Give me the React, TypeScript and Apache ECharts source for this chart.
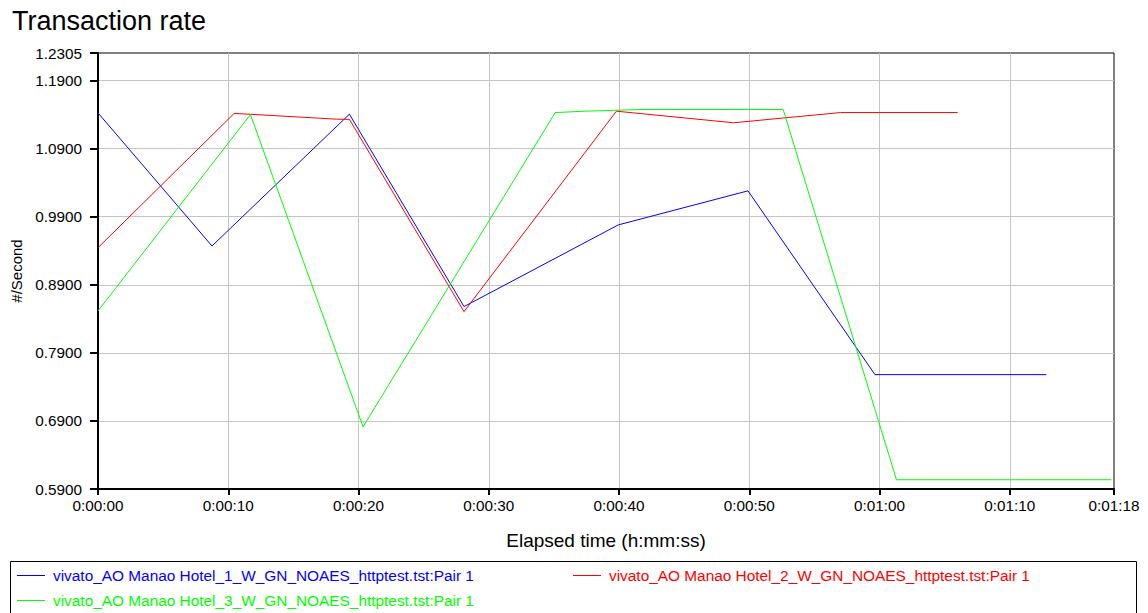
import React, { useEffect, useRef } from "react";
import * as echarts from "echarts";

const TITLE = "Transaction rate";
const X_NAME = "Elapsed time (h:mm:ss)";
const Y_NAME = "#/Second";

const SERIES_NAMES = [
  "vivato_AO Manao Hotel_1_W_GN_NOAES_httptest.tst:Pair 1",
  "vivato_AO Manao Hotel_2_W_GN_NOAES_httptest.tst:Pair 1",
  "vivato_AO Manao Hotel_3_W_GN_NOAES_httptest.tst:Pair 1",
];
const SERIES_COLORS = ["#0000ff", "#ff0000", "#00ff00"];

// elapsed seconds / transactions per second
const blueT = [0, 8.75, 19.3, 28.1, 39.95, 49.9, 59.65, 72.8];
const blueV = [1.1425, 0.947, 1.1406, 0.858, 0.978, 1.028, 0.758, 0.758];

const redT = [0, 10.45, 11.6, 18.3, 19.3, 28.1, 39.8, 48.8, 52.6, 57, 66];
const redV = [0.9445, 1.1417, 1.1406, 1.1333, 1.133, 0.8506, 1.145, 1.128, 1.135, 1.143, 1.143];

const greenT = [0, 11.7, 20.35, 35.1, 37.4, 41.75, 52.6, 61.3, 77.8];
const greenV = [0.8516, 1.14, 0.6814, 1.143, 1.145, 1.1475, 1.1475, 0.6036, 0.6036];

const X_MIN = 0;
const X_MAX = 78;
const X_INTERVAL = 10;
const Y_MIN = 0.59;
const Y_MAX = 1.2305;
const Y_INTERVAL = 0.1;

const pad2 = (n: number) => (n < 10 ? "0" + n : "" + n);
const fmtTime = (v: number) => {
  const t = Math.round(v);
  const h = Math.floor(t / 3600);
  const m = Math.floor((t % 3600) / 60);
  const s = t % 60;
  return `${h}:${pad2(m)}:${pad2(s)}`;
};

const FONT = "'Liberation Sans', Arial, sans-serif";

export default function App() {
  const ref = useRef<HTMLDivElement>(null);
  useEffect(() => {
    if (!ref.current) return;
    const chart = echarts.init(ref.current, null, { renderer: "svg" });
    const zip = (t: number[], v: number[]) => t.map((x, i) => [x, v[i]]);
    const datas = [zip(blueT, blueV), zip(redT, redV), zip(greenT, greenV)];
    const legendPos = [
      { left: 17, top: 568 },
      { left: 573, top: 568 },
      { left: 17, top: 593 },
    ];
    chart.setOption({
      animation: false,
      backgroundColor: "#ffffff",
      textStyle: { fontFamily: FONT },
      title: {
        text: TITLE,
        left: 7,
        top: 2,
        textStyle: { fontFamily: FONT, fontSize: 27, fontWeight: "normal", color: "#000" },
      },
      grid: {
        left: 98,
        right: 34,
        top: 53,
        bottom: 124,
        show: true,
        borderColor: "#000",
        borderWidth: 1,
        outerBoundsMode: "none",
      },
      legend: SERIES_NAMES.map((n, i) => ({
        data: [n],
        left: legendPos[i].left,
        top: legendPos[i].top,
        icon: "rect",
        itemWidth: 28,
        itemHeight: 1,
        padding: 0,
        selectedMode: false,
        textStyle: { fontFamily: FONT, fontSize: 15.4, color: SERIES_COLORS[i], padding: [0, 0, 0, 3] },
      })),
      xAxis: {
        type: "value",
        min: X_MIN,
        max: X_MAX,
        interval: X_INTERVAL,
        name: X_NAME,
        nameLocation: "middle",
        nameGap: 42,
        nameTextStyle: { fontFamily: FONT, fontSize: 19, color: "#000" },
        axisLine: { lineStyle: { color: "#000", width: 2 } },
        axisTick: { show: true, length: 6, lineStyle: { color: "#000", width: 2 } },
        axisLabel: { formatter: fmtTime, fontSize: 15.3, color: "#000", margin: 9, fontFamily: FONT, showMaxLabel: true },
        splitLine: { show: true, showMinLine: false, showMaxLine: false, lineStyle: { color: "#c4c4c4", width: 1 } },
      },
      yAxis: {
        type: "value",
        min: Y_MIN,
        max: Y_MAX,
        interval: Y_INTERVAL,
        name: Y_NAME,
        nameLocation: "middle",
        nameGap: 72,
        nameRotate: 90,
        nameTextStyle: { fontFamily: FONT, fontSize: 15, color: "#000" },
        axisLine: { show: true, lineStyle: { color: "#000", width: 2 } },
        axisTick: { show: true, length: 8, lineStyle: { color: "#000", width: 2 } },
        axisLabel: {
          formatter: (v: number) => v.toFixed(4),
          fontSize: 15.3,
          color: "#000",
          margin: 16,
          fontFamily: FONT,
          showMaxLabel: true,
        },
        splitLine: { show: true, showMinLine: false, showMaxLine: false, lineStyle: { color: "#c4c4c4", width: 1 } },
      },
      graphic: [
        {
          type: "rect",
          shape: { x: 10.5, y: 561.5, width: 1126, height: 70 },
          style: { fill: "none", stroke: "#000", lineWidth: 1 },
          silent: true,
        },
      ],
      series: SERIES_NAMES.map((n, i) => ({
        name: n,
        type: "line",
        data: datas[i],
        symbol: "none",
        lineStyle: { color: SERIES_COLORS[i], width: 1 },
        itemStyle: { color: SERIES_COLORS[i] },
        clip: true,
      })),
    });
    return () => chart.dispose();
  }, []);
  return (
    <div
      ref={ref}
      style={{ position: "absolute", left: 0, top: 0, width: 1148, height: 613, background: "#fff" }}
    />
  );
}
